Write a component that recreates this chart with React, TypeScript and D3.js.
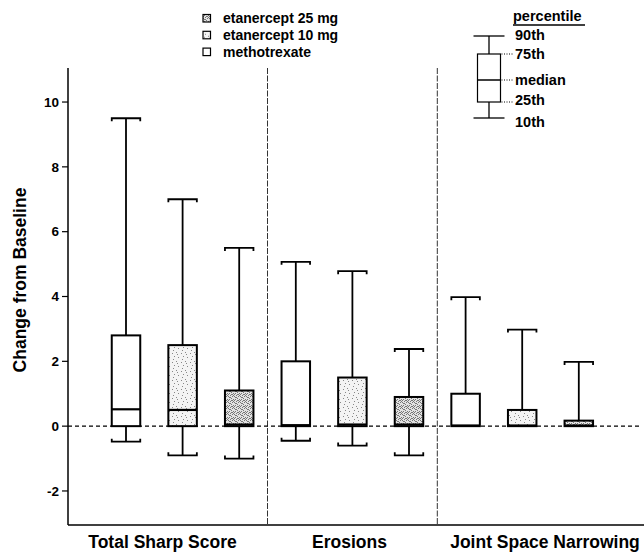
import React from "react";
import * as d3 from "d3";

const groups = ["Total Sharp Score", "Erosions", "Joint Space Narrowing"];
const treatments = ["methotrexate", "etanercept 10 mg", "etanercept 25 mg"];
const legendOrder = ["etanercept 25 mg", "etanercept 10 mg", "methotrexate"];
// per group, per treatment (order: methotrexate, etanercept 10 mg, etanercept 25 mg)
const p10 = [[-0.48, -0.9, -1.0], [-0.45, -0.6, -0.9], [0, 0, 0]];
const p25 = [[0, 0, 0], [0, 0, 0], [0, 0, 0]];
const median = [[0.52, 0.5, 0.05], [0.03, 0.05, 0.05], [0.02, 0.02, 0.02]];
const p75 = [[2.8, 2.5, 1.1], [2.0, 1.5, 0.9], [1.0, 0.5, 0.17]];
const p90 = [[9.5, 7.0, 5.5], [5.07, 4.78, 2.38], [3.98, 2.98, 1.98]];
const yTicks = [-2, 0, 2, 4, 6, 8, 10];
const legendPercentiles = ["90th", "75th", "median", "25th", "10th"];

const W = 644, H = 553;
const FONT = "'Liberation Sans', Arial, Helvetica, sans-serif";

export default function App() {
  const y = d3.scaleLinear().domain([-3.05, 11.05]).range([525, 68]);
  const keys: string[] = [];
  groups.forEach((g, gi) => treatments.forEach((t, ti) => keys.push(gi + "-" + ti)));
  const x = d3.scalePoint<string>().domain(keys).range([126, 578.8]);
  const bw = 28.5;
  const fills = ["#ffffff", "url(#stipLight)", "url(#stipDark)"];
  const legendFills: Record<string, string> = {
    "etanercept 25 mg": "url(#stipDark)",
    "etanercept 10 mg": "url(#stipLight)",
    methotrexate: "#ffffff",
  };
  const xAxisLeft = 68;
  const xAxisRight = 644;

  const seps = [1, 2].map((gi) => (x(gi - 1 + "-2")! + x(gi + "-0")!) / 2);

  const lightDots = [[1, 2], [5, 1], [3, 5], [7, 6], [2, 8], [6, 3]];
  const darkDots = [[0, 0], [2, 1], [4, 0], [1, 3], [3, 2], [5, 3], [0, 4], [4, 4], [2, 5], [5, 5], [1, 1], [3, 4]];

  const cap = (cx: number, vy: number, dir: number) => (
    <path
      d={`M${cx - bw / 2},${vy + dir * 3}V${vy}H${cx + bw / 2}V${vy + dir * 3}`}
      fill="none"
      stroke="#000"
      strokeWidth={1.8}
    />
  );

  const lx = 489, lbw = 23, lcw = 31;
  const lyPos: Record<string, number> = { "90th": 36, "75th": 54, median: 80, "25th": 102, "10th": 118 };
  const lyLabel: Record<string, number> = { "90th": 35, "75th": 54, median: 80, "25th": 100, "10th": 122 };

  return (
    <svg width={W} height={H} style={{ position: "absolute", left: 0, top: 0, background: "#fff" }} fontFamily={FONT}>
      <defs>
        <pattern id="stipLight" width="9" height="9" patternUnits="userSpaceOnUse">
          <rect width="9" height="9" fill="#f4f4f4" />
          {lightDots.map(([a, b], i) => (
            <rect key={i} x={a} y={b} width="1" height="1" fill="#888" />
          ))}
        </pattern>
        <pattern id="stipDark" width="6" height="6" patternUnits="userSpaceOnUse">
          <rect width="6" height="6" fill="#e2e2e2" />
          {darkDots.map(([a, b], i) => (
            <rect key={i} x={a} y={b} width="1" height="1" fill="#777" />
          ))}
        </pattern>
      </defs>
      <rect width={W} height={H} fill="#fff" />

      {seps.map((sx, i) => (
        <line key={i} x1={sx} x2={sx} y1={68} y2={525} stroke="#333" strokeWidth={1} strokeDasharray="6,1.5" />
      ))}

      <line x1={xAxisLeft} x2={640} y1={y(0)} y2={y(0)} stroke="#000" strokeWidth={1.2} strokeDasharray="4,3" />

      {groups.map((g, gi) =>
        treatments.map((t, ti) => {
          const cx = x(gi + "-" + ti)!;
          const hasLower = p10[gi][ti] < p25[gi][ti];
          return (
            <g key={gi + "-" + ti}>
              <line x1={cx} x2={cx} y1={y(p90[gi][ti])} y2={y(p75[gi][ti])} stroke="#000" strokeWidth={1.8} />
              {cap(cx, y(p90[gi][ti]), 1)}
              {hasLower && (
                <>
                  <line x1={cx} x2={cx} y1={y(p25[gi][ti])} y2={y(p10[gi][ti])} stroke="#000" strokeWidth={1.8} />
                  {cap(cx, y(p10[gi][ti]), -1)}
                </>
              )}
              <rect
                x={cx - bw / 2}
                y={y(p75[gi][ti])}
                width={bw}
                height={y(p25[gi][ti]) - y(p75[gi][ti])}
                fill={fills[ti]}
                stroke="#000"
                strokeWidth={2}
              />
              <line
                x1={cx - bw / 2}
                x2={cx + bw / 2}
                y1={y(median[gi][ti])}
                y2={y(median[gi][ti])}
                stroke="#000"
                strokeWidth={2.2}
              />
            </g>
          );
        })
      )}

      <line x1={xAxisLeft} x2={xAxisLeft} y1={68} y2={525} stroke="#000" strokeWidth={1.5} />
      <line x1={xAxisLeft} x2={xAxisRight} y1={525} y2={525} stroke="#000" strokeWidth={1.5} />
      {yTicks.map((t) => (
        <g key={t}>
          <line x1={xAxisLeft - 6} x2={xAxisLeft} y1={y(t)} y2={y(t)} stroke="#000" strokeWidth={1.2} />
          <text x={xAxisLeft - 9} y={y(t)} dy="0.35em" textAnchor="end" fontSize={13.5} fontWeight="bold">
            {t}
          </text>
        </g>
      ))}
      <text transform={`translate(26,280) rotate(-90)`} textAnchor="middle" fontSize={17.5} fontWeight="bold">
        Change from Baseline
      </text>
      {groups.map((g, gi) => (
        <text key={g} x={[162.5, 349.5, 545][gi]} y={548} textAnchor="middle" fontSize={17.5} fontWeight="bold">
          {g}
        </text>
      ))}

      {legendOrder.map((name, i) => (
        <g key={name} transform={`translate(203,${18 + i * 16.8})`}>
          <rect x={0} y={-3.5} width={7.5} height={7.5} fill={legendFills[name]} stroke="#000" strokeWidth={1.2} />
          <text x={20} y={0} dy="0.35em" fontSize={14} fontWeight="bold">
            {name}
          </text>
        </g>
      ))}

      <text x={513} y={21} fontSize={14.5} fontWeight="bold">percentile</text>
      <line x1={513} x2={585} y1={25} y2={25} stroke="#000" strokeWidth={1.3} />
      <line x1={lx} x2={lx} y1={lyPos["90th"]} y2={lyPos["10th"]} stroke="#000" strokeWidth={1.3} />
      <line x1={lx - lcw / 2} x2={lx + lcw / 2} y1={lyPos["90th"]} y2={lyPos["90th"]} stroke="#000" strokeWidth={1.3} />
      <line x1={lx - lcw / 2} x2={lx + lcw / 2} y1={lyPos["10th"]} y2={lyPos["10th"]} stroke="#000" strokeWidth={1.3} />
      <rect
        x={lx - lbw / 2}
        y={lyPos["75th"]}
        width={lbw}
        height={lyPos["25th"] - lyPos["75th"]}
        fill="#fff"
        stroke="#000"
        strokeWidth={1.2}
      />
      <line x1={lx - lbw / 2} x2={lx + lbw / 2} y1={lyPos.median} y2={lyPos.median} stroke="#000" strokeWidth={1.5} />
      {["75th", "median", "25th"].map((k) => (
        <line key={k} x1={lx + lbw / 2 + 1} x2={513} y1={lyPos[k]} y2={lyPos[k]} stroke="#000" strokeWidth={1} strokeDasharray="1,1.5" />
      ))}
      {legendPercentiles.map((k) => (
        <text key={k} x={515} y={lyLabel[k]} dy="0.35em" fontSize={14.5} fontWeight="bold">
          {k}
        </text>
      ))}
    </svg>
  );
}
